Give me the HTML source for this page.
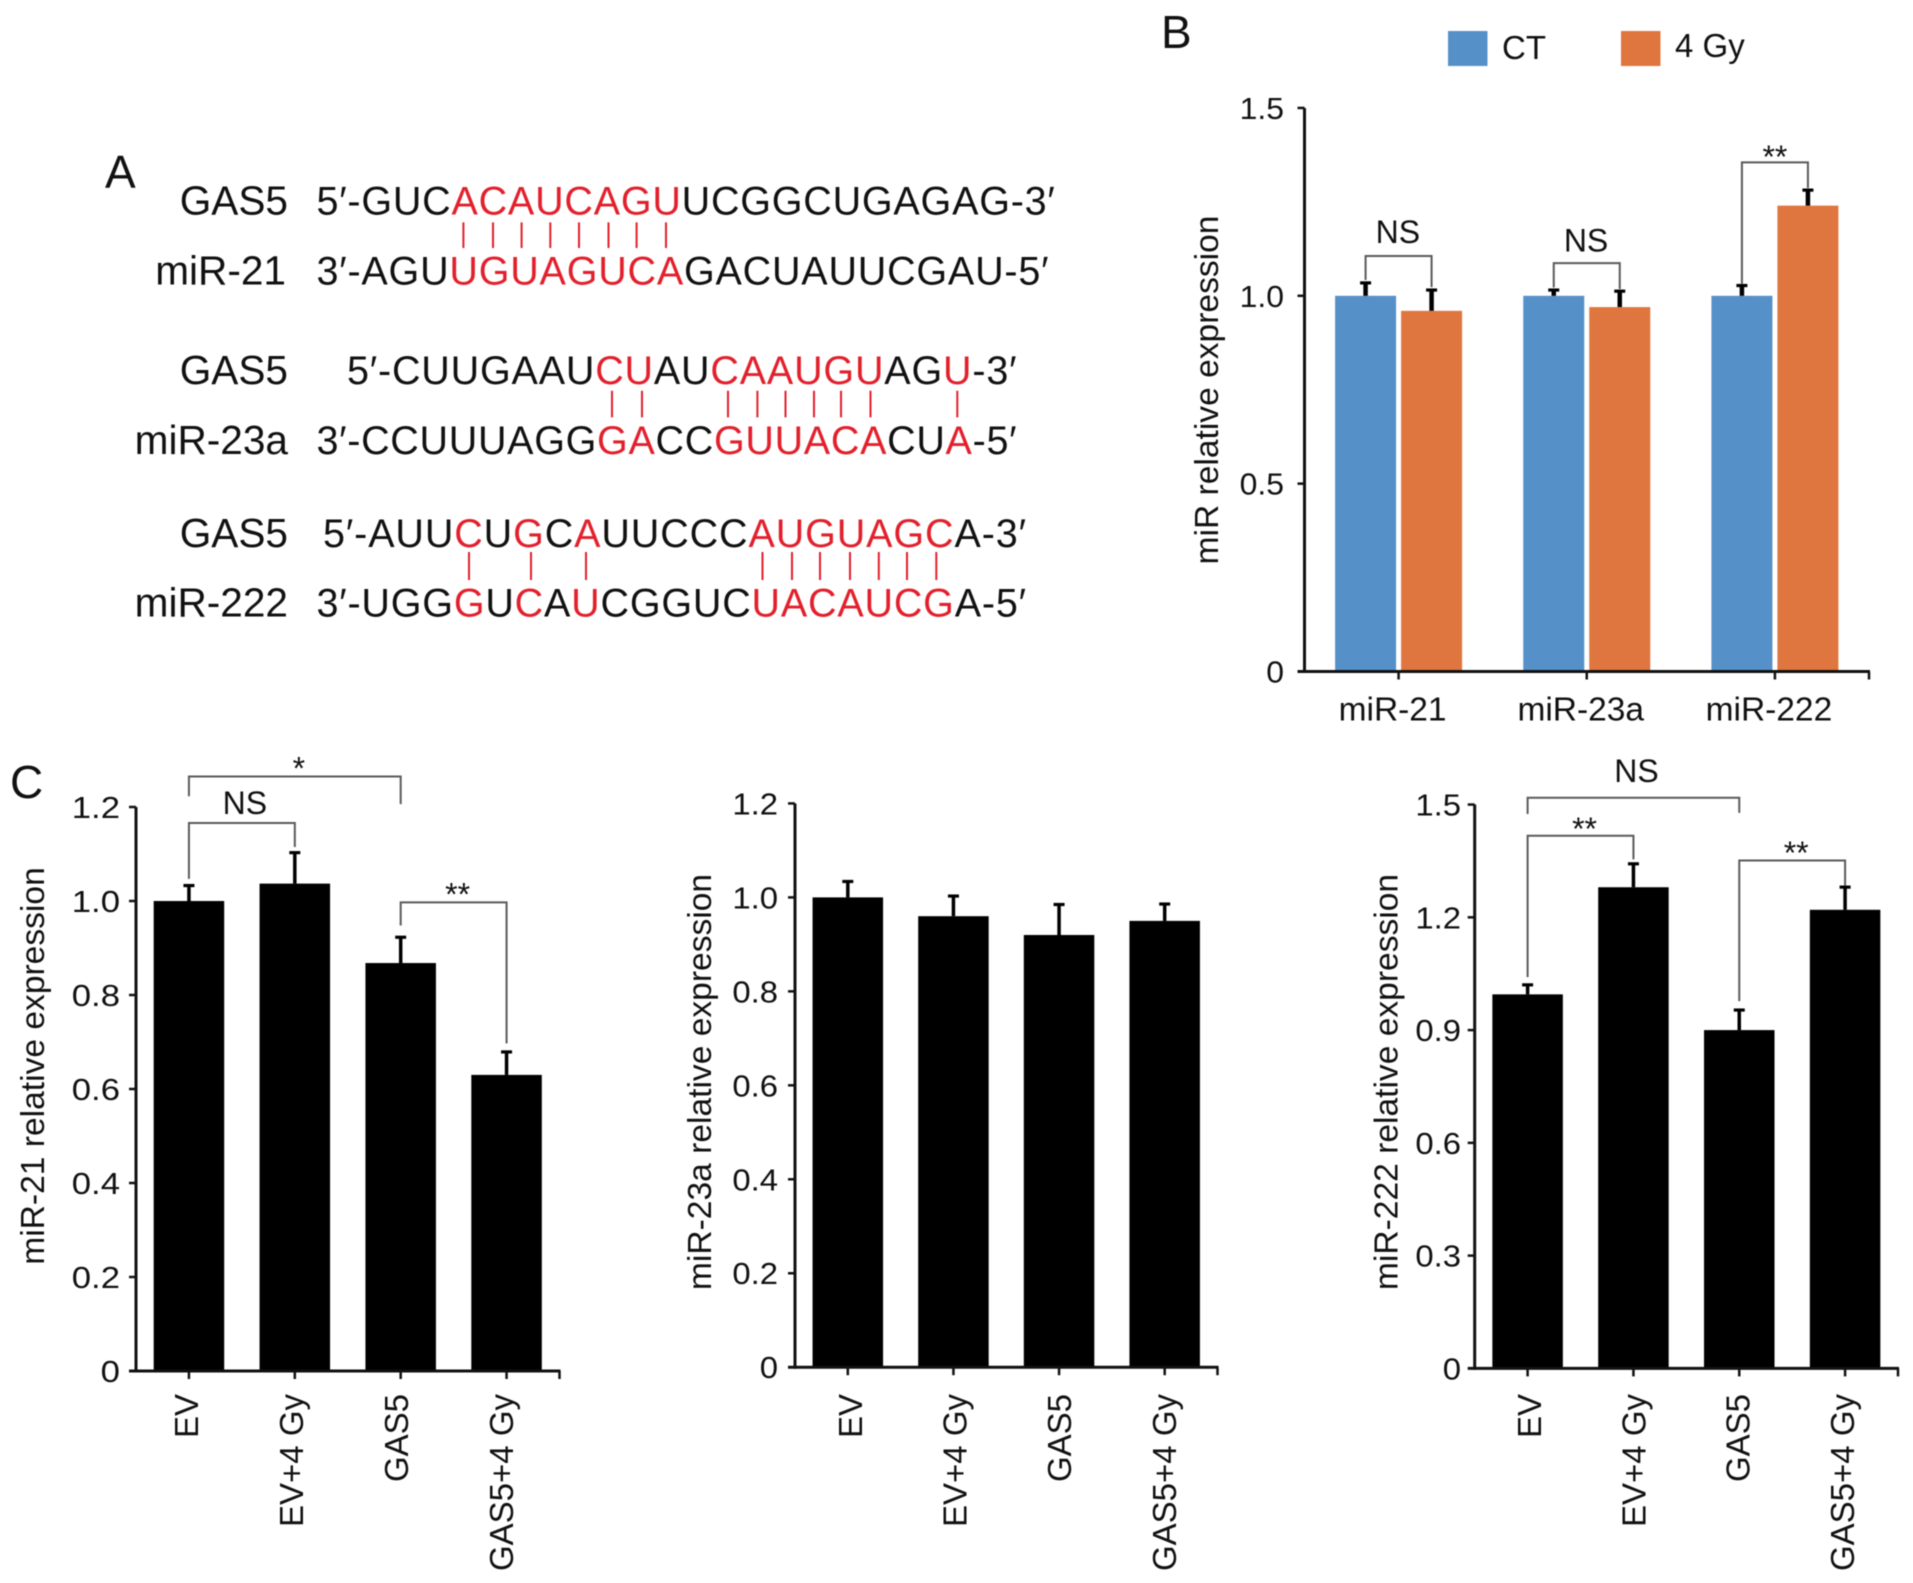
<!DOCTYPE html>
<html lang="en">
<head>
<meta charset="utf-8">
<title>GAS5 and miR expression figure</title>
<style>
html,body{margin:0;padding:0;background:#fff;width:1913px;height:1583px;overflow:hidden}
svg{display:block;filter:blur(.5px)}
text{font-family:"Liberation Sans",sans-serif;fill:#111}
.seq{font-size:39.5px}
.lab{font-size:40.6px}
.r{fill:#e2202c}
.pair{stroke:#e2202c;stroke-width:2}
.panel{font-size:46px}
</style>
</head>
<body>
<svg id="fig" xmlns="http://www.w3.org/2000/svg" width="1913" height="1583" viewBox="0 0 1913 1583">
  <rect width="1913" height="1583" fill="#fff"/>

  <g id="panel-a">
    <text class="panel" x="105" y="188">A</text>
    <text class="lab" x="288" y="214.7" text-anchor="end">GAS5</text>
    <text class="seq" x="316.5" y="214.7" textLength="738.3">5′-GUC<tspan class="r">ACAUCAGU</tspan>UCGGCUGAGAG-3′</text>
    <text class="lab" x="286" y="284.5" text-anchor="end">miR-21</text>
    <text class="seq" x="316.5" y="284.5" textLength="732">3′-AGU<tspan class="r">UGUAGUCA</tspan>GACUAUUCGAU-5′</text>
    <g>
      <path class="pair" d="M463.4 222.4V248M493 222.4V248M521.6 222.4V248M550.3 222.4V248M579 222.4V248M608.5 222.4V248M636.6 222.4V248M666 222.4V248"/>
    </g>

    <text class="lab" x="288" y="384" text-anchor="end">GAS5</text>
    <text class="seq" x="347" y="384" textLength="669.5">5′-CUUGAAU<tspan class="r">CU</tspan>AU<tspan class="r">CAAUGU</tspan>AG<tspan class="r">U</tspan>-3′</text>
    <text class="lab" x="288" y="454" text-anchor="end">miR-23a</text>
    <text class="seq" x="316.5" y="454" textLength="700">3′-CCUUUAGG<tspan class="r">GA</tspan>CC<tspan class="r">GUUACA</tspan>CU<tspan class="r">A</tspan>-5′</text>
    <g>
      <path class="pair" d="M612 390.8V417.4M642 390.8V417.4M728 390.8V417.4M757.4 390.8V417.4M785.5 390.8V417.4M814 390.8V417.4M841 390.8V417.4M870.5 390.8V417.4M957.3 390.8V417.4"/>
    </g>

    <text class="lab" x="288" y="547" text-anchor="end">GAS5</text>
    <text class="seq" x="323" y="547" textLength="703">5′-AUU<tspan class="r">C</tspan>U<tspan class="r">G</tspan>C<tspan class="r">A</tspan>UUCCC<tspan class="r">AUGUAGC</tspan>A-3′</text>
    <text class="lab" x="288" y="616.7" text-anchor="end">miR-222</text>
    <text class="seq" x="316.5" y="616.7" textLength="709.5">3′-UGG<tspan class="r">G</tspan>U<tspan class="r">C</tspan>A<tspan class="r">U</tspan>CGGUC<tspan class="r">UACAUCG</tspan>A-5′</text>
    <g>
      <path class="pair" d="M469 552V580M531 552V580M586 552V580M762.5 552V580M792 552V580M820 552V580M850 552V580M878.8 552V580M907 552V580M936.3 552V580"/>
    </g>
  </g>

  <text class="panel" x="1161" y="48">B</text>
  <text class="panel" x="10" y="798">C</text>

  <g>
    <rect x="1448" y="31" width="39.5" height="35" fill="#5591c8"/>
    <text x="1502" y="59" font-size="33">CT</text>
    <rect x="1621" y="31" width="39.5" height="35" fill="#e0763f"/>
    <text x="1675" y="57" font-size="33">4 Gy</text>
  </g>

  <g id="chart-b"></g>
  <g id="chart-c1"></g>
  <g id="chart-c2"></g>
  <g id="chart-c3"></g>
</svg>

<script>
// Panel B data
const bCategories = ['miR-21', 'miR-23a', 'miR-222'];
const bTickLabels = ['0', '0.5', '1.0', '1.5'];
const bTickValues = [0, 0.5, 1.0, 1.5];
const bCtValues = [1.0, 1.0, 1.0];
const bGyValues = [0.96, 0.97, 1.24];
const bCtErrorTops = [1.037, 1.018, 1.03];
const bGyErrorTops = [1.018, 1.015, 1.284];
const bBrackets = [
  {group: 0, top: 1.106, left: 1.042, right: 1.023, label: 'NS', labelAt: 1.141},
  {group: 1, top: 1.087, left: 1.022, right: 1.018, label: 'NS', labelAt: 1.118},
  {group: 2, top: 1.355, left: 1.032, right: 1.287, label: '**', labelAt: 1.34}
];

// Panel C data
const cCategories = ['EV', 'EV+4 Gy', 'GAS5', 'GAS5+4 Gy'];
const c1TickLabels = ['0', '0.2', '0.4', '0.6', '0.8', '1.0', '1.2'];
const c1TickValues = [0, 0.2, 0.4, 0.6, 0.8, 1.0, 1.2];
const c1Values = [1.0, 1.037, 0.868, 0.63];
const c1ErrorTops = [1.035, 1.105, 0.925, 0.681];
const c1Brackets = [
  {from: 0, to: 2, top: 1.265, left: 1.223, right: 1.206, label: '*', labelAt: 1.258},
  {from: 0, to: 1, top: 1.166, left: 1.047, right: 1.115, label: 'NS', labelAt: 1.185},
  {from: 2, to: 3, top: 0.997, left: 0.948, right: 0.697, label: '**', labelAt: 0.99}
];

const c2TickLabels = ['0', '0.2', '0.4', '0.6', '0.8', '1.0', '1.2'];
const c2TickValues = [0, 0.2, 0.4, 0.6, 0.8, 1.0, 1.2];
const c2Values = [1.0, 0.96, 0.92, 0.95];
const c2ErrorTops = [1.036, 1.005, 0.987, 0.988];
const c2Brackets = [];

const c3TickLabels = ['0', '0.3', '0.6', '0.9', '1.2', '1.5'];
const c3TickValues = [0, 0.3, 0.6, 0.9, 1.2, 1.5];
const c3Values = [0.995, 1.28, 0.9, 1.22];
const c3ErrorTops = [1.023, 1.345, 0.956, 1.283];
const c3Brackets = [
  {from: 0, to: 2, top: 1.518, left: 1.475, right: 1.478, label: 'NS', labelAt: 1.56},
  {from: 0, to: 1, top: 1.417, left: 1.041, right: 1.354, label: '**', labelAt: 1.406},
  {from: 2, to: 3, top: 1.351, left: 0.977, right: 1.285, label: '**', labelAt: 1.342}
];

const NS = 'http://www.w3.org/2000/svg';
const AXIS = '#111';
const BRACKET = '#5a5a5a';

function line(parent, x1, y1, x2, y2, stroke, width) {
  const el = document.createElementNS(NS, 'line');
  el.setAttribute('x1', x1);
  el.setAttribute('y1', y1);
  el.setAttribute('x2', x2);
  el.setAttribute('y2', y2);
  el.setAttribute('stroke', stroke);
  el.setAttribute('stroke-width', width);
  parent.appendChild(el);
  return el;
}
function rect(parent, x, y, w, h, fill) {
  const el = document.createElementNS(NS, 'rect');
  el.setAttribute('x', x);
  el.setAttribute('y', y);
  el.setAttribute('width', w);
  el.setAttribute('height', Math.max(0, h));
  el.setAttribute('fill', fill);
  parent.appendChild(el);
  return el;
}
function text(parent, x, y, str, size, anchor) {
  const el = document.createElementNS(NS, 'text');
  el.setAttribute('x', x);
  el.setAttribute('y', y);
  el.setAttribute('font-size', size);
  el.setAttribute('text-anchor', anchor);
  el.textContent = str;
  parent.appendChild(el);
  return el;
}
function drawAxes(g, cfg, y) {
  const a = line(g, cfg.left, y(cfg.yMax), cfg.left, cfg.y0 + 1.5, AXIS, 3);
  
  
  const b = line(g, cfg.left - 7, cfg.y0, cfg.right, cfg.y0, AXIS, 3);
  
  
  const endTick = line(g, cfg.right - 1, cfg.y0, cfg.right - 1, cfg.y0 + 8, AXIS, 2.5);
  
  
  cfg.tickValues.forEach(function (v, i) {
    if (v > 0) {
      const t = line(g, cfg.left - 7, y(v), cfg.left, y(v), AXIS, 2.5);
      
      
    }
    const l = text(g, 0, 0, cfg.tickLabels[i], cfg.tickSize, 'end');
    l.setAttribute('transform', 'translate(' + cfg.tickRight + ',' + (y(v) + 11) + ') scale(' + cfg.tickStretch + ',1)');
    
    
  });
  const title = text(g, 0, 0, cfg.title, 33.6, 'middle');
  title.setAttribute('transform', 'translate(' + cfg.titleX + ',' + cfg.titleY + ') rotate(-90)');
  
  
}
function drawError(g, x, yBase, yTop, w) {
  const stem = line(g, x, yBase, x, yTop, '#000', w);
  
  
  const cap = line(g, x - 5.5, yTop + 1, x + 5.5, yTop + 1, '#000', 3.2);
  
  
}
function drawBracket(g, xa, xb, yTop, yLeft, yRight, label, yLabel, size, nsShift, starShift) {
  const p = document.createElementNS(NS, 'path');
  p.setAttribute('d', 'M' + xa + ' ' + yLeft + 'V' + yTop + 'H' + xb + 'V' + yRight);
  p.setAttribute('fill', 'none');
  p.setAttribute('stroke', BRACKET);
  p.setAttribute('stroke-width', 2);
  
  
  g.appendChild(p);
  const t = text(g, (xa + xb) / 2 + (label === 'NS' ? nsShift : starShift), yLabel, label, size, 'middle');
  
  
}

// Panel B
(function () {
  const g = document.getElementById('chart-b');
  const cfg = {left: 1304.5, right: 1870, y0: 671.5, yMax: 1.5, pxPerUnit: 375.7,
    tickValues: bTickValues, tickLabels: bTickLabels, tickRight: 1284, tickSize: 31, tickStretch: 1.03,
    title: 'miR relative expression', titleX: 1218, titleY: 390};
  const y = function (v) { return cfg.y0 - v * cfg.pxPerUnit; };
  const step = (cfg.right - 1 - cfg.left) / bCategories.length;
  const cx = function (i) { return cfg.left + (i + 0.5) * step; };
  const barW = 61;
  const gap = 5;
  bCategories.forEach(function (name, i) {
    const xa = cx(i) - gap / 2 - barW;
    const xb = cx(i) + gap / 2;
    const ct = rect(g, xa, y(bCtValues[i]), barW, cfg.y0 - y(bCtValues[i]), '#5591c8');
    
    
    const gy = rect(g, xb, y(bGyValues[i]), barW, cfg.y0 - y(bGyValues[i]), '#e0763f');
    
    
    drawError(g, xa + barW / 2, y(bCtValues[i]), y(bCtErrorTops[i]), 4.5);
    drawError(g, xb + barW / 2, y(bGyValues[i]), y(bGyErrorTops[i]), 4.5);
    const tick = line(g, cx(i), cfg.y0, cx(i), cfg.y0 + 8, AXIS, 2.5);
    
    
    const lab = text(g, cx(i) - 6, 720.5, name, 33.5, 'middle');
    
    
  });
  bBrackets.forEach(function (b) {
    const xa = cx(b.group) - gap / 2 - barW / 2;
    const xb = cx(b.group) + gap / 2 + barW / 2;
    drawBracket(g, xa, xb, y(b.top), y(b.left), y(b.right), b.label, y(b.labelAt), 32, -0.7, 0);
  });
  drawAxes(g, cfg, y);
})();

// Panel C charts
function drawC(id, cfg, values, errorTops, brackets) {
  const g = document.getElementById(id);
  const y = function (v) { return cfg.y0 - v * cfg.pxPerUnit; };
  const step = (cfg.right - 1 - cfg.left) / cCategories.length;
  const cx = function (i) { return cfg.left + (i + 0.5) * step; };
  const barW = 70.5;
  cCategories.forEach(function (name, i) {
    const bar = rect(g, cx(i) - barW / 2, y(values[i]), barW, cfg.y0 - y(values[i]), '#000');
    
    
    drawError(g, cx(i), y(values[i]), y(errorTops[i]), 3.5);
    const tick = line(g, cx(i), cfg.y0, cx(i), cfg.y0 + 8, AXIS, 2.5);
    
    
    const lab = text(g, 0, 0, name, 33, 'end');
    lab.setAttribute('transform', 'translate(' + (cfg.labelStart + i * cfg.labelStep) + ',1394) rotate(-90)');
    
    
  });
  brackets.forEach(function (b) {
    drawBracket(g, cx(b.from), cx(b.to), y(b.top), y(b.left), y(b.right), b.label, y(b.labelAt), 32, 3, 4);
  });
  drawAxes(g, cfg, y);
}

drawC('chart-c1', {left: 136, right: 560.5, y0: 1371, yMax: 1.2, pxPerUnit: 470,
  tickValues: c1TickValues, tickLabels: c1TickLabels, tickRight: 120, tickSize: 31, tickStretch: 1.12,
  title: 'miR-21 relative expression', titleX: 44, titleY: 1066,
  labelStart: 198, labelStep: 105}, c1Values, c1ErrorTops, c1Brackets);

drawC('chart-c2', {left: 795, right: 1218.5, y0: 1367.2, yMax: 1.2, pxPerUnit: 469.8,
  tickValues: c2TickValues, tickLabels: c2TickLabels, tickRight: 778, tickSize: 31, tickStretch: 1.06,
  title: 'miR-23a relative expression', titleX: 711, titleY: 1082,
  labelStart: 862, labelStep: 104.6}, c2Values, c2ErrorTops, c2Brackets);

drawC('chart-c3', {left: 1474.7, right: 1899, y0: 1368.4, yMax: 1.5, pxPerUnit: 375.9,
  tickValues: c3TickValues, tickLabels: c3TickLabels, tickRight: 1461, tickSize: 31, tickStretch: 1.06,
  title: 'miR-222 relative expression', titleX: 1397.4, titleY: 1082,
  labelStart: 1541, labelStep: 104.3}, c3Values, c3ErrorTops, c3Brackets);
</script>
</body>
</html>
